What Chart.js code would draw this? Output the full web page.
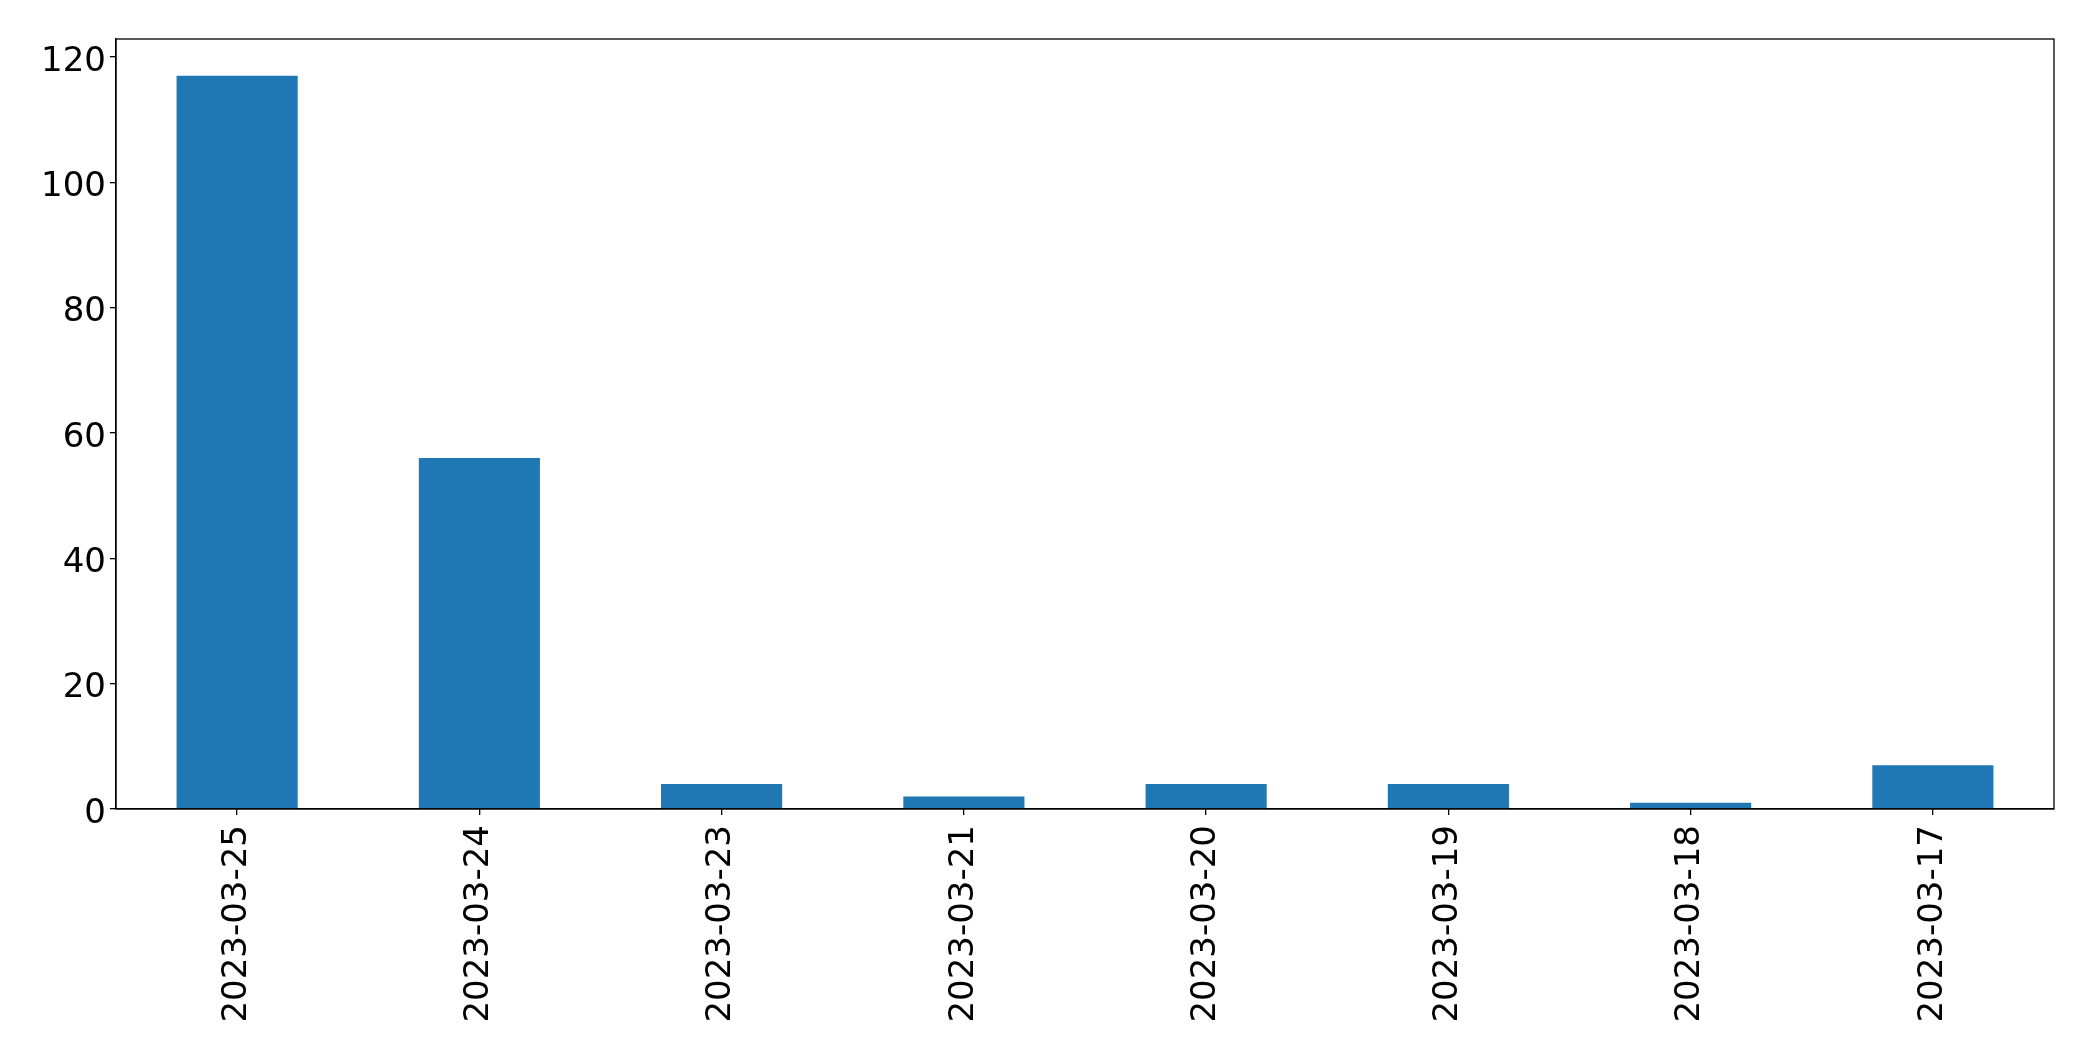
<!DOCTYPE html>
<html>
<head>
<meta charset="utf-8">
<script src="https://cdn.jsdelivr.net/npm/chart.js@4.4.0/dist/chart.umd.min.js"></script>
<style>
  html, body { margin: 0; padding: 0; background: #fff; }
  #wrap { width: 2093px; height: 1061px; }
</style>
</head>
<body>
<div id="wrap"><canvas id="myChart" width="2093" height="1061"></canvas></div>
<script>
const dates = ['2023-03-25', '2023-03-24', '2023-03-23', '2023-03-21', '2023-03-20', '2023-03-19', '2023-03-18', '2023-03-17'];
const counts = [117, 56, 4, 2, 4, 4, 1, 7];
const yTicks = [0, 20, 40, 60, 80, 100, 120];

// draws the top and right sides of the frame
const frameBox = {
    id: 'frameBox',
    afterDraw(chart) {
        const { ctx, chartArea } = chart;
        ctx.save();
        ctx.strokeStyle = '#000';
        ctx.lineWidth = 1.3;
        ctx.strokeRect(chartArea.left, chartArea.top, chartArea.right - chartArea.left, chartArea.bottom - chartArea.top);
        ctx.restore();
    }
};

const ctx = document.getElementById('myChart').getContext('2d');
const myChart = new Chart(ctx, {
    type: 'bar',
    data: {
        labels: dates,
        datasets: [{
            data: counts,
            backgroundColor: '#1f77b4',
            borderWidth: 0,
            barPercentage: 0.5,
            categoryPercentage: 1.0
        }]
    },
    options: {
        responsive: false,
        animation: false,
        layout: { padding: { top: 39, right: 39, left: 0, bottom: 0 } },
        plugins: {
            legend: { display: false },
            tooltip: { enabled: false }
        },
        scales: {
            x: {
                grid: { display: true, offset: false, drawOnChartArea: false, drawTicks: true, tickLength: 6, color: '#000', lineWidth: 1.3 },
                border: { display: true, color: '#000', width: 1.3 },
                ticks: {
                    minRotation: 90,
                    maxRotation: 90,
                    color: '#000',
                    padding: 10,
                    font: { family: 'DejaVu Sans', size: 34 }
                },
                afterFit(scale) { scale.height = 252; }
            },
            y: {
                min: 0,
                max: 122.85,
                grid: { display: true, drawOnChartArea: false, drawTicks: true, tickLength: 6, color: '#000', lineWidth: 1.3 },
                border: { display: true, color: '#000', width: 1.3 },
                ticks: {
                    color: '#000',
                    padding: 4,
                    // empty first line nudges the label a few px down, like matplotlib
                    callback: v => ['', String(v)],
                    font: { family: 'DejaVu Sans', size: 34, lineHeight: 0.29 }
                },
                afterBuildTicks(scale) { scale.ticks = yTicks.map(v => ({ value: v })); },
                afterFit(scale) { scale.width = 116; }
            }
        }
    },
    plugins: [frameBox]
});
</script>
</body>
</html>
